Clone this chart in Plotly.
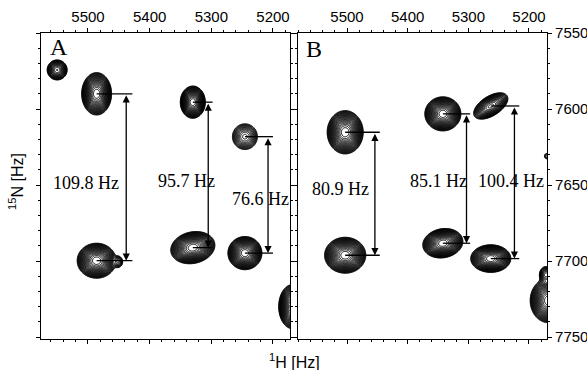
import numpy as np
import plotly.graph_objects as go

# ---------------- data (Hz) ----------------
# Panel A: coupled doublets (upper / lower components)
A_H = [5486.0, 5330.0, 5245.5]
A_N_upper = [7590.0, 7595.5, 7618.2]
A_J = [109.8, 95.7, 76.6]
A_amp_upper = [1.0, 1.0, 0.12]
A_amp_lower = [1.0, 1.0, 1.0]
A_sH_upper = [8.0, 6.7, 9.1]
A_sN_upper = [4.6, 3.5, 3.8]
A_sH_lower = [10.4, 11.8, 9.1]
A_sN_lower = [3.8, 3.5, 3.6]
A_tilt_upper = [0.0, 0.0, 0.0]
A_tilt_lower = [0.0, 0.15, 0.0]
# Panel A: other peaks
A_other_H = [5550.0, 5451.0, 5168.0]
A_other_N = [7574.3, 7700.5, 7730.0]
A_other_amp = [0.25, 0.05, 1.0]
A_other_sH = [6.4, 4.0, 7.5]
A_other_sN = [2.6, 2.0, 4.8]

# Panel B: coupled doublets
B_H = [5503.0, 5342.0, 5263.0]
B_N_upper = [7615.3, 7603.2, 7598.0]
B_J = [80.9, 85.1, 100.4]
B_amp_upper = [1.0, 1.0, 0.4]
B_amp_lower = [1.0, 1.0, 1.0]
B_sH_upper = [9.8, 9.8, 10.4]
B_sN_upper = [4.7, 3.7, 3.2]
B_sH_lower = [11.2, 10.9, 10.9]
B_sN_lower = [3.9, 3.2, 3.0]
B_tilt_upper = [0.0, 0.0, 0.55]
B_tilt_lower = [0.0, 0.12, 0.0]
# Panel B: other peaks
B_other_H = [5168.0, 5172.0, 5171.0]
B_other_N = [7726.0, 7709.0, 7631.0]
B_other_amp = [1.0, 0.1, 0.02]
B_other_sH = [9.9, 5.0, 3.0]
B_other_sN = [4.8, 2.5, 1.5]

# annotation anchors (Hz)
A_arrow_H = [5438.0, 5305.0, 5208.0]
A_bar_end_H = [5428.0, 5298.0, 5200.0]
A_label_H = [5504.0, 5339.5, 5219.5]
A_label_N = [7648.7, 7647.4, 7659.2]
B_arrow_H = [5454.0, 5303.0, 5224.0]
B_bar_end_H = [5446.0, 5297.0, 5216.0]
B_label_H = [5510.0, 5348.4, 5229.7]
B_label_N = [7652.6, 7647.4, 7647.4]

A_xrange = [5576.2, 5172.4]
B_xrange = [5580.8, 5170.3]
N_range = [7751.3, 7550.0]
x_ticks = [5500, 5400, 5300, 5200]
y_ticks = [7550, 7600, 7650, 7700, 7750]


def spectrum(xr, yr, H, Nu, J, au, al, shu, snu, shl, snl, tu, tl, oH, oN, oa, osh, osn):
    xs = np.linspace(min(xr), max(xr), 520)
    ys = np.linspace(min(yr), max(yr), 520)
    X, Y = np.meshgrid(xs, ys)
    Z = np.zeros_like(X)
    peaks = []
    for h, n, j, a1, a2, s1, s2, s3, s4, r1, r2 in zip(H, Nu, J, au, al, shu, snu, shl, snl, tu, tl):
        peaks.append((h, n, a1, s1, s2, r1))
        peaks.append((h, n + j, a2, s3, s4, r2))
    for h, n, a, sh, sn in zip(oH, oN, oa, osh, osn):
        peaks.append((h, n, a, sh, sn, 0.0))
    for h, n, a, sh, sn, rho in peaks:
        dx = (X - h) / sh
        dy = (Y - n) / sn
        Z += a * np.exp(-0.5 / (1 - rho ** 2) * (dx ** 2 - 2 * rho * dx * dy + dy ** 2))
    return xs, ys, np.log(Z + 1e-12)


fig = go.Figure()
lev = dict(coloring='none', start=float(np.log(0.01)), end=-0.03, size=0.2)

xa, ya, za = spectrum(A_xrange, N_range, A_H, A_N_upper, A_J, A_amp_upper, A_amp_lower,
                      A_sH_upper, A_sN_upper, A_sH_lower, A_sN_lower, A_tilt_upper, A_tilt_lower,
                      A_other_H, A_other_N, A_other_amp, A_other_sH, A_other_sN)
xb, yb, zb = spectrum(B_xrange, N_range, B_H, B_N_upper, B_J, B_amp_upper, B_amp_lower,
                      B_sH_upper, B_sN_upper, B_sH_lower, B_sN_lower, B_tilt_upper, B_tilt_lower,
                      B_other_H, B_other_N, B_other_amp, B_other_sH, B_other_sN)

for xs, ys, zs, xr, yr in [(xa, ya, za, 'x', 'y'), (xb, yb, zb, 'x2', 'y2')]:
    fig.add_trace(go.Contour(x=xs, y=ys, z=zs, xaxis=xr, yaxis=yr, contours=lev,
                             line=dict(color='black', width=1.0), showscale=False,
                             hoverinfo='skip', showlegend=False))

shapes = []
annotations = []
serif = 'Liberation Serif, Times New Roman, serif'
for H, Nu, J, arr, bar, lh, ln, xr, yr in [
        (A_H, A_N_upper, A_J, A_arrow_H, A_bar_end_H, A_label_H, A_label_N, 'x', 'y'),
        (B_H, B_N_upper, B_J, B_arrow_H, B_bar_end_H, B_label_H, B_label_N, 'x2', 'y2')]:
    for h, n, j, ax_, be, tx, ty in zip(H, Nu, J, arr, bar, lh, ln):
        for yy in (n, n + j):
            shapes.append(dict(type='line', xref=xr, yref=yr, x0=h, x1=be, y0=yy, y1=yy,
                               line=dict(color='black', width=1.3)))
        annotations.append(dict(x=ax_, y=n + j, ax=ax_, ay=n, xref=xr, yref=yr,
                                axref=xr, ayref=yr, text='', showarrow=True,
                                arrowside='end+start', arrowhead=2, arrowsize=1.1,
                                arrowwidth=1.3, arrowcolor='black', standoff=0,
                                startstandoff=0))
        annotations.append(dict(x=tx, y=ty, xref=xr, yref=yr, text=f'{j:.1f} Hz',
                                showarrow=False, font=dict(family=serif, size=18, color='black')))

annotations.append(dict(x=5547, y=7558.9, xref='x', yref='y', text='A', showarrow=False,
                        font=dict(family=serif, size=24, color='black')))
annotations.append(dict(x=5555, y=7560.5, xref='x2', yref='y2', text='B', showarrow=False,
                        font=dict(family=serif, size=24, color='black')))

W, Hh = 587, 370
ml, mr, mt, mb = 41, 40, 33, 31
pw, ph = W - ml - mr, Hh - mt - mb
sans = 'Liberation Sans, Arial, sans-serif'
# axis titles placed by pixel centre -> paper coords
annotations.append(dict(x=(16 - ml) / pw, y=(Hh - 182 - mb) / ph, xref='paper', yref='paper',
                        text='<sup>15</sup>N [Hz]', showarrow=False, textangle=-90,
                        xanchor='center', yanchor='middle',
                        font=dict(family=sans, size=16, color='black')))
annotations.append(dict(x=(294 - ml) / pw, y=(Hh - 361 - mb) / ph, xref='paper', yref='paper',
                        text='<sup>1</sup>H [Hz]', showarrow=False,
                        xanchor='center', yanchor='middle',
                        font=dict(family=sans, size=16, color='black')))

axis_common = dict(showline=True, linecolor='black', linewidth=1.2, mirror='ticks',
                   ticks='outside', ticklen=4, tickwidth=1, tickcolor='black',
                   showgrid=False, zeroline=False, automargin=False,
                   tickfont=dict(family=sans, size=15, color='black'))

fig.update_layout(
    width=W, height=Hh, margin=dict(l=ml, r=mr, t=mt, b=mb),
    paper_bgcolor='white', plot_bgcolor='white',
    xaxis=dict(domain=[0, (290 - ml) / pw], range=A_xrange, side='top', anchor='y',
               tickvals=x_ticks, minor=dict(dtick=20, ticklen=2, ticks='outside', tickcolor='black'),
               **axis_common),
    xaxis2=dict(domain=[(298 - ml) / pw, 1], range=B_xrange, side='top', anchor='y2',
                tickvals=x_ticks, minor=dict(dtick=20, ticklen=2, ticks='outside', tickcolor='black'),
                **axis_common),
    yaxis=dict(domain=[0, 1], range=N_range, anchor='x', showticklabels=False,
               tickvals=y_ticks, minor=dict(dtick=10, ticklen=2, ticks='outside', tickcolor='black'),
               **axis_common),
    yaxis2=dict(domain=[0, 1], range=N_range, anchor='x2', side='right',
                tickvals=y_ticks, minor=dict(dtick=10, ticklen=2, ticks='outside', tickcolor='black'),
                **axis_common),
    shapes=shapes, annotations=annotations, showlegend=False,
)

fig.write_html('out.html', config={'displayModeBar': False},
               post_script="document.body.style.margin='0';")
